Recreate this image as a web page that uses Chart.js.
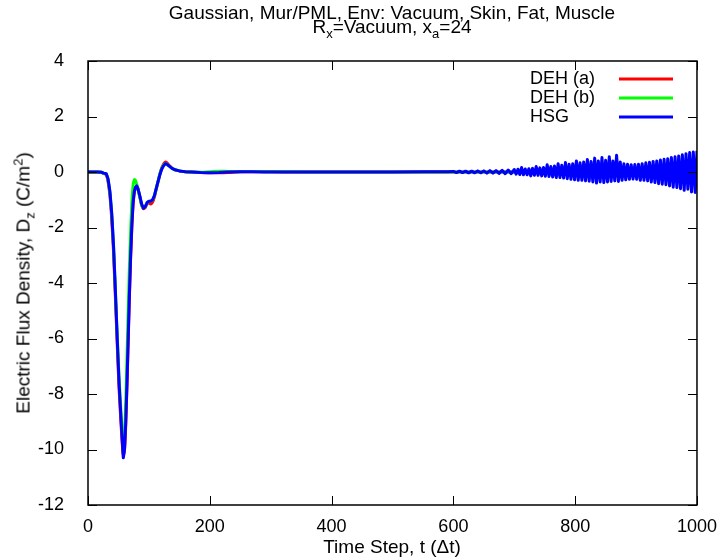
<!DOCTYPE html>
<html>
<head>
<meta charset="utf-8">
<script src="https://cdn.jsdelivr.net/npm/chart.js@4.4.1/dist/chart.umd.min.js"></script>
<style>
html,body{margin:0;padding:0;background:#fff;}
#wrap{position:relative;width:720px;height:560px;font-family:"Liberation Sans",Arial,sans-serif;color:#000;}
#c{position:absolute;left:0;top:0;}
.t{position:absolute;white-space:nowrap;font-size:19px;line-height:19px;}
.t sub,.t sup{font-size:13px;line-height:0;}
#title1{left:392px;top:3px;transform:translateX(-50%);}
#title2{left:392px;top:17px;transform:translateX(-50%);}
#xtitle{left:392px;top:537px;transform:translateX(-50%);}
#ytitle{left:23px;top:283px;transform:translate(-50%,-50%) rotate(-90deg);}
</style>
</head>
<body>
<div id="wrap">
<canvas id="c" width="720" height="560"></canvas>
<div class="t" id="title1">Gaussian, Mur/PML, Env: Vacuum, Skin, Fat, Muscle</div>
<div class="t" id="title2">R<sub>x</sub>=Vacuum, x<sub>a</sub>=24</div>
<div class="t" id="xtitle">Time Step, t (&Delta;t)</div>
<div class="t" id="ytitle">Electric Flux Density, D<sub>z</sub> (C/m<sup>2</sup>)</div>
</div>
<script>
// time steps of the pulse part
const tPulse = [0, 15, 22, 26, 30, 33, 36, 39, 42, 45, 48, 51, 54, 56, 58, 60, 62, 64, 66, 68, 70, 72, 74, 76, 78, 80, 82, 85, 88, 91, 94, 97, 100, 103, 106, 109, 112, 115, 118, 121, 124, 127, 130, 134, 138, 143, 150, 160];
const redPulse   = [0, 0, -0.01, -0.06, -0.1, -0.35, -0.85, -1.7, -2.9, -4.5, -6.2, -7.8, -9.0, -9.7, -10.2, -10.0, -9.1, -7.7, -6.1, -4.5, -3.1, -2.0, -1.2, -0.75, -0.58, -0.52, -0.6, -0.88, -1.18, -1.32, -1.28, -1.15, -1.12, -1.15, -1.08, -0.9, -0.62, -0.35, -0.08, 0.14, 0.28, 0.36, 0.32, 0.22, 0.14, 0.08, 0.04, 0.01];
const greenPulse = [0, 0, -0.01, -0.05, -0.08, -0.3, -0.75, -1.55, -2.7, -4.3, -5.9, -7.4, -8.6, -9.3, -9.9, -9.5, -8.3, -6.7, -5.0, -3.4, -2.1, -1.1, -0.5, -0.27, -0.3, -0.45, -0.62, -0.9, -1.18, -1.3, -1.25, -1.12, -1.06, -1.05, -1.0, -0.86, -0.6, -0.34, -0.08, 0.12, 0.25, 0.3, 0.27, 0.2, 0.13, 0.08, 0.04, 0.01];
const bluePulse  = [0, 0, -0.01, -0.04, -0.06, -0.25, -0.7, -1.5, -2.7, -4.3, -6.0, -7.6, -8.8, -9.6, -10.3, -10.0, -9.0, -7.6, -6.0, -4.4, -3.0, -1.9, -1.1, -0.7, -0.55, -0.5, -0.6, -0.85, -1.15, -1.3, -1.25, -1.1, -1.05, -1.05, -1.0, -0.85, -0.6, -0.35, -0.1, 0.1, 0.22, 0.3, 0.27, 0.2, 0.13, 0.08, 0.04, 0.01];

// quiet middle part
const tCalm = [170, 185, 200, 215, 230, 250, 270, 290, 320, 360, 400, 450, 500, 550, 590];
const redCalm   = [0, -0.02, -0.03, -0.03, -0.02, 0.01, 0.01, 0.01, 0, 0, 0, 0, 0, 0, 0];
const greenCalm = [0, -0.01, 0.01, 0.03, 0.02, 0.01, 0.02, 0.01, 0.01, 0, 0, 0, 0, 0, 0];
const blueCalm  = [0, -0.02, -0.03, -0.02, 0, 0.01, 0.01, 0, 0, 0, 0, 0, 0, 0.01, 0.01];

// late part: HSG oscillates, DEH stays flat
const tEnd = [700, 850, 1000];
const redEnd   = [0, 0, 0];
const greenEnd = [0, 0, 0];
const tTail = [600, 605, 610, 615, 620, 625, 630, 635, 640, 645, 650, 655, 660, 665, 670, 675, 680, 685, 690, 695,
  700, 703, 706, 709, 712, 715, 718, 721, 724, 727, 730, 733, 736, 739, 742, 745, 748, 751, 754, 757,
  760, 763, 766, 769, 772, 775, 778, 781, 784, 787, 790, 793, 796, 799, 802, 805, 808, 811, 814, 817,
  820, 823, 826, 829, 832, 835, 838, 841, 844, 847, 850, 853, 856, 859, 862, 865, 868, 871, 874, 877,
  880, 883, 886, 889, 892, 895, 898, 901, 904, 907, 910, 913, 916, 919, 922, 925, 928, 931, 934, 937,
  940, 943, 946, 949, 952, 955, 958, 961, 964, 967, 970, 973, 976, 979, 982, 985, 988, 991, 994, 997, 1000];
const blueTail = [0.02, -0.02, 0.03, -0.02, 0.03, -0.03, 0.03, -0.03, 0.04, -0.03, 0.04, -0.04, 0.05, -0.04, 0.05, -0.05, 0.06, -0.06, 0.07, -0.06,
  0.09, -0.08, 0.1, -0.09, 0.16, -0.1, 0.11, -0.1, 0.12, -0.14, 0.13, -0.12, 0.2, -0.12, 0.15, -0.14, 0.16, -0.15, 0.26, -0.16,
  0.2, -0.18, 0.22, -0.2, 0.3, -0.2, 0.24, -0.22, 0.34, -0.24, 0.28, -0.26, 0.3, -0.28, 0.4, -0.3, 0.33, -0.3, 0.36, -0.32,
  0.45, -0.33, 0.38, -0.36, 0.5, -0.4, 0.4, -0.36, 0.52, -0.38, 0.42, -0.36, 0.55, -0.34, 0.4, -0.32, 0.6, -0.34, 0.36, -0.3,
  0.3, -0.28, 0.28, -0.26, 0.26, -0.25, 0.27, -0.26, 0.28, -0.3, 0.3, -0.3, 0.33, -0.32, 0.35, -0.36, 0.38, -0.38, 0.4, -0.42,
  0.43, -0.44, 0.46, -0.46, 0.48, -0.5, 0.52, -0.55, 0.55, -0.56, 0.58, -0.6, 0.62, -0.66, 0.66, -0.62, 0.7, -0.72, 0.72, -0.74, 0.76];

const xTicks = [0, 1000, 200];
const yTicks = [-12, 4, 2];

const pts = (ts, vs) => ts.map((t, i) => ({ x: t, y: vs[i] }));

const RED = '#ff0000', GREEN = '#00ff00', BLUE = '#0000ff';
const FONT = '"Liberation Sans", Arial, sans-serif';

// gnuplot style frame, inner ticks on all four sides and key
const frame = {
  id: 'frame',
  afterDatasetsDraw(chart) {
    const { ctx, chartArea: a, scales: { x, y } } = chart;
    ctx.save();
    ctx.strokeStyle = '#000';
    ctx.lineWidth = 1;
    ctx.beginPath();
    x.ticks.forEach(t => {
      const px = Math.round(x.getPixelForValue(t.value)) + 0.5;
      ctx.moveTo(px, a.bottom); ctx.lineTo(px, a.bottom - 9);
      ctx.moveTo(px, a.top); ctx.lineTo(px, a.top + 9);
    });
    y.ticks.forEach(t => {
      const py = Math.round(y.getPixelForValue(t.value)) + 0.5;
      ctx.moveTo(a.left, py); ctx.lineTo(a.left + 9, py);
      ctx.moveTo(a.right, py); ctx.lineTo(a.right - 9, py);
    });
    ctx.stroke();
    ctx.lineWidth = 1.5;
    ctx.strokeRect(a.left, a.top, a.right - a.left, a.bottom - a.top);

    ctx.font = '18px ' + FONT;
    ctx.fillStyle = '#000';
    ctx.textAlign = 'left';
    ctx.textBaseline = 'middle';
    ctx.lineWidth = 3;
    chart.data.datasets.forEach((ds, i) => {
      const ry = 79 + i * 19;
      ctx.fillText(ds.label, 530, ry);
      ctx.strokeStyle = ds.borderColor;
      ctx.beginPath();
      ctx.moveTo(619, ry); ctx.lineTo(673, ry);
      ctx.stroke();
    });
    ctx.restore();
  }
};

new Chart(document.getElementById('c'), {
  type: 'line',
  data: {
    datasets: [
      { label: 'DEH (a)', data: pts([...tPulse, ...tCalm, ...tEnd], [...redPulse, ...redCalm, ...redEnd]), borderColor: RED, order: 3 },
      { label: 'DEH (b)', data: pts([...tPulse, ...tCalm, ...tEnd], [...greenPulse, ...greenCalm, ...greenEnd]), borderColor: GREEN, order: 2 },
      { label: 'HSG', data: pts([...tPulse, ...tCalm, ...tTail], [...bluePulse, ...blueCalm, ...blueTail]), borderColor: BLUE, order: 1,
        cubicInterpolationMode: 'default', tension: 0 }
    ]
  },
  options: {
    responsive: false,
    animation: false,
    events: [],
    devicePixelRatio: 1,
    elements: {
      line: { borderWidth: 3, cubicInterpolationMode: 'monotone', fill: false, borderJoinStyle: 'round' },
      point: { radius: 0 }
    },
    layout: { padding: { top: 61, right: 23, left: 0, bottom: 0 } },
    plugins: { legend: { display: false }, tooltip: { enabled: false }, title: { display: false } },
    scales: {
      x: {
        type: 'linear', min: xTicks[0], max: xTicks[1],
        grid: { display: false }, border: { display: false },
        ticks: { stepSize: xTicks[2], padding: 3, color: '#000', font: { family: FONT, size: 18 }, maxRotation: 0,
          callback: v => String(v) },
        afterFit: s => { s.height = 55; }
      },
      y: {
        type: 'linear', min: yTicks[0], max: yTicks[1],
        grid: { display: false }, border: { display: false },
        ticks: { stepSize: yTicks[2], padding: 16, color: '#000', font: { family: FONT, size: 18 },
          callback: v => String(v) },
        afterFit: s => { s.width = 88; }
      }
    }
  },
  plugins: [frame]
});
</script>
</body>
</html>
